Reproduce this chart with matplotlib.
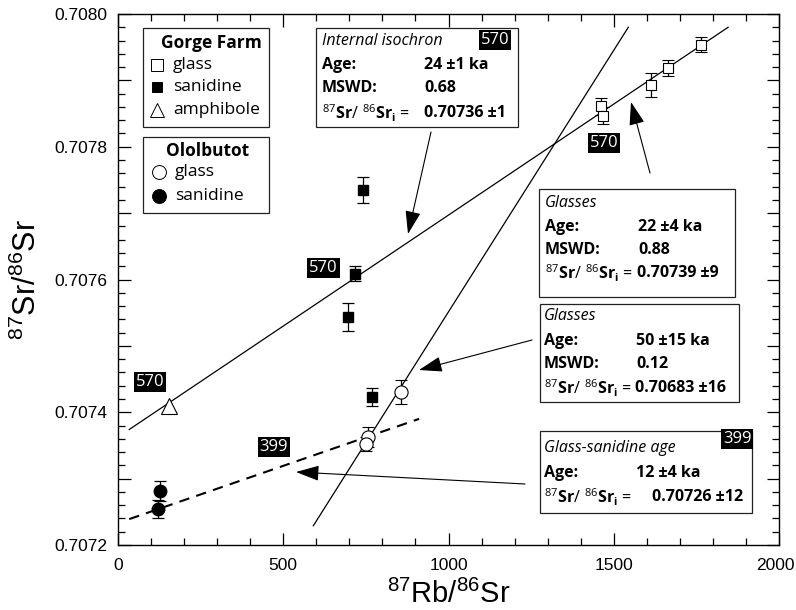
import matplotlib
matplotlib.use('Agg')
import matplotlib.pyplot as plt
from matplotlib.patches import Rectangle
from matplotlib.ticker import MultipleLocator, FuncFormatter
from matplotlib.transforms import ScaledTranslation

plt.rcParams['font.family'] = ['Open Sans', 'DejaVu Sans']
plt.rcParams['mathtext.fontset'] = 'custom'
plt.rcParams['mathtext.rm'] = 'Open Sans'
plt.rcParams['mathtext.bf'] = 'Open Sans:bold'
plt.rcParams['mathtext.it'] = 'Open Sans:italic'
plt.rcParams['mathtext.sf'] = 'Liberation Sans'

# Gorge Farm
gf_glass_x = [1460, 1467, 1613, 1665, 1763]
gf_glass_y = [0.707861, 0.707847, 0.707893, 0.707918, 0.707954]
gf_glass_err = [0.000013, 0.000013, 0.000018, 0.000012, 0.000012]
gf_san_x = [742, 717, 697, 770]
gf_san_y = [0.707735, 0.707609, 0.707544, 0.707423]
gf_san_err = [0.000019, 0.000012, 0.000021, 0.000014]
gf_amph_x = [154]
gf_amph_y = [0.707409]

# Ololbutot
ol_glass_x = [856, 757, 749]
ol_glass_y = [0.707430, 0.707363, 0.707352]
ol_glass_err = [0.000018, 0.000015, 0.000010]
ol_san_x = [127, 120]
ol_san_y = [0.707282, 0.707254]
ol_san_err = [0.000015, 0.000014]

# isochron lines (end points)
iso570_x = [34, 1846]
iso570_y = [0.707374, 0.707980]
glass50_x = [591, 1544]
glass50_y = [0.707229, 0.707980]
iso399_x = [34, 911]
iso399_y = [0.707239, 0.707390]

# tags sitting in the plot: (x, y, text)
tag_x = [621, 97, 472, 1470]
tag_y = [0.707617, 0.707446, 0.707347, 0.707806]
tag_txt = ['570', '570', '399', '570']

fig = plt.figure(figsize=(7.96, 6.10), dpi=100)
ax = fig.add_axes([118 / 796, 65 / 610, 661 / 796, 531 / 610])


def frac(px, py):
    return ((px - 118) / 661, (545 - py) / 531)


ax.plot(iso570_x, iso570_y, color='black', lw=0.9, zorder=2)
ax.plot(glass50_x, glass50_y, color='black', lw=0.9, zorder=2)
ax.plot(iso399_x, iso399_y, color='black', lw=1.5, ls=(0, (5, 3.5)), zorder=2)

eb = dict(ecolor='black', elinewidth=0.9, capsize=4.5, capthick=0.9, ls='none', zorder=3)
ax.errorbar(gf_glass_x, gf_glass_y, yerr=gf_glass_err, fmt='s', ms=7.5,
            mfc='white', mec='black', mew=0.8, **eb)
ax.errorbar(gf_san_x, gf_san_y, yerr=gf_san_err, fmt='s', ms=7.5,
            mfc='black', mec='black', **eb)
ax.plot(gf_amph_x, gf_amph_y, '^', ms=11, mfc='white', mec='black', mew=0.8, zorder=3)
ax.errorbar(ol_glass_x, ol_glass_y, yerr=ol_glass_err, fmt='o', ms=9.5,
            mfc='white', mec='black', mew=0.8, **eb)
ax.errorbar(ol_san_x, ol_san_y, yerr=ol_san_err, fmt='o', ms=9,
            mfc='black', mec='black', **eb)

tagbox = dict(boxstyle='square,pad=0.12', fc='black', ec='none')
for x, y, t in zip(tag_x, tag_y, tag_txt):
    ax.text(x, y, t, color='white', fontsize=12, ha='center', va='center',
            bbox=tagbox, zorder=5)

ax.set_xlim(0, 2000)
ax.set_ylim(0.7072, 0.7080)
ax.xaxis.set_major_locator(MultipleLocator(500))
ax.xaxis.set_minor_locator(MultipleLocator(100))
ax.yaxis.set_major_locator(MultipleLocator(0.0001))
ax.yaxis.set_minor_locator(MultipleLocator(0.00002))
ax.yaxis.set_major_formatter(FuncFormatter(
    lambda v, p: '%.4f' % v if round(v * 10000) % 2 == 0 else ''))
ax.tick_params(which='both', direction='in', top=True, right=True, width=0.9)
ax.tick_params(which='major', length=9)
ax.tick_params(which='minor', length=5)
ax.tick_params(axis='x', pad=9)
ax.tick_params(axis='y', pad=8)
for lab in ax.get_xticklabels() + ax.get_yticklabels():
    lab.set_fontfamily('Liberation Sans')
    lab.set_fontsize(12.5)
for s in ax.spines.values():
    s.set_linewidth(1.0)

# keep the last x label inside the canvas
fig.canvas.draw()
xlabs = ax.get_xticklabels()
last = [l for l in xlabs if l.get_text() == '2000']
for l in last:
    l.set_transform(l.get_transform() + ScaledTranslation(-4 / 100, 0, fig.dpi_scale_trans))

ax.set_xlabel(r'$\mathsf{^{87}Rb/^{86}Sr}$', fontsize=21, labelpad=6)
ax.set_ylabel(r'$\mathsf{^{87}Sr/^{86}Sr}$', fontsize=22, labelpad=8)

T = ax.transAxes


def box(x0, y0, x1, y1):
    (a, b), (c, d) = frac(x0, y1), frac(x1, y0)
    ax.add_patch(Rectangle((a, b), c - a, d - b, transform=T, fc='white',
                           ec='#222222', lw=0.9, zorder=6, clip_on=False))


def txt(px, py, s, **kw):
    kw.setdefault('fontsize', 11.5)
    kw.setdefault('va', 'center')
    ax.text(*frac(px, py), s, transform=T, zorder=7, **kw)


sr_label = r'$^{87}\mathbf{Sr}/\ ^{86}\mathbf{Sr}_\mathbf{i}$'

# legend boxes
box(143, 28, 269, 127)
txt(211, 43, 'Gorge Farm', fontweight='bold', ha='center', fontsize=12.5)
leg1 = [('s', 'white', 'glass', 65), ('s', 'black', 'sanidine', 87), ('^', 'white', 'amphibole', 110)]
for m, fc, lab, py in leg1:
    ax.plot(*frac(157, py), m, ms=10 if m == '^' else 8 if fc == 'white' else 6.5,
            mfc=fc, mec='black', mew=0.7, transform=T, zorder=7, clip_on=False)
    txt(173, py, lab, fontsize=12.5)

box(143, 137, 269, 213)
txt(208, 151, 'Ololbutot', fontweight='bold', ha='center', fontsize=12.5)
for fc, lab, py in [('white', 'glass', 172), ('black', 'sanidine', 196)]:
    ax.plot(*frac(159, py), 'o', ms=10, mfc=fc, mec='black', mew=0.7,
            transform=T, zorder=7, clip_on=False)
    txt(175, py, lab, fontsize=12.5)

# internal isochron box
box(316, 28, 518, 127)
txt(322, 41, 'Internal isochron', fontstyle='italic')
txt(495, 40, '570', color='white', ha='center', fontsize=12, bbox=tagbox)
txt(322, 65, 'Age:', fontweight='bold')
txt(424, 65, '24 \u00b11 ka', fontweight='bold')
txt(322, 88, 'MSWD:', fontweight='bold')
txt(424, 88, '0.68', fontweight='bold')
txt(322, 113, sr_label + ' =')
txt(424, 113, '0.70736 \u00b11', fontweight='bold')

# glasses 22 ka
box(539, 189, 735, 297)
txt(545, 203, 'Glasses', fontstyle='italic')
txt(545, 227, 'Age:', fontweight='bold')
txt(638, 227, '22 \u00b14 ka', fontweight='bold')
txt(545, 250, 'MSWD:', fontweight='bold')
txt(638, 250, '0.88', fontweight='bold')
txt(545, 273, sr_label + ' =')
txt(637, 273, '0.70739 \u00b19', fontweight='bold')

# glasses 50 ka
box(540, 304, 739, 402)
txt(544, 316, 'Glasses', fontstyle='italic')
txt(544, 341, 'Age:', fontweight='bold')
txt(636, 341, '50 \u00b115 ka', fontweight='bold')
txt(544, 364, 'MSWD:', fontweight='bold')
txt(636, 364, '0.12', fontweight='bold')
txt(544, 388, sr_label + ' =')
txt(635, 388, '0.70683 \u00b116', fontweight='bold')

# glass-sanidine
box(540, 431, 752, 513)
txt(544, 448, 'Glass-sanidine age', fontstyle='italic')
txt(737, 439, '399', color='white', ha='center', fontsize=12, bbox=tagbox)
txt(544, 473, 'Age:', fontweight='bold')
txt(636, 473, '12 \u00b14 ka', fontweight='bold')
txt(544, 497, sr_label + ' =')
txt(652, 497, '0.70726 \u00b112', fontweight='bold')

# arrows
arrows = [((431, 132), (408, 234)), ((650, 173), (631, 102)),
          ((532, 340), (419, 370)), ((525, 484), (296, 472))]
for (sx, sy), (ex, ey) in arrows:
    ax.annotate('', xy=frac(ex, ey), xycoords=T, xytext=frac(sx, sy), textcoords=T,
                arrowprops=dict(arrowstyle='-|>,head_length=1.2,head_width=0.4',
                                mutation_scale=12, lw=0.8, color='black',
                                shrinkA=0, shrinkB=0), zorder=4)

fig.savefig('out.png', dpi=100)
